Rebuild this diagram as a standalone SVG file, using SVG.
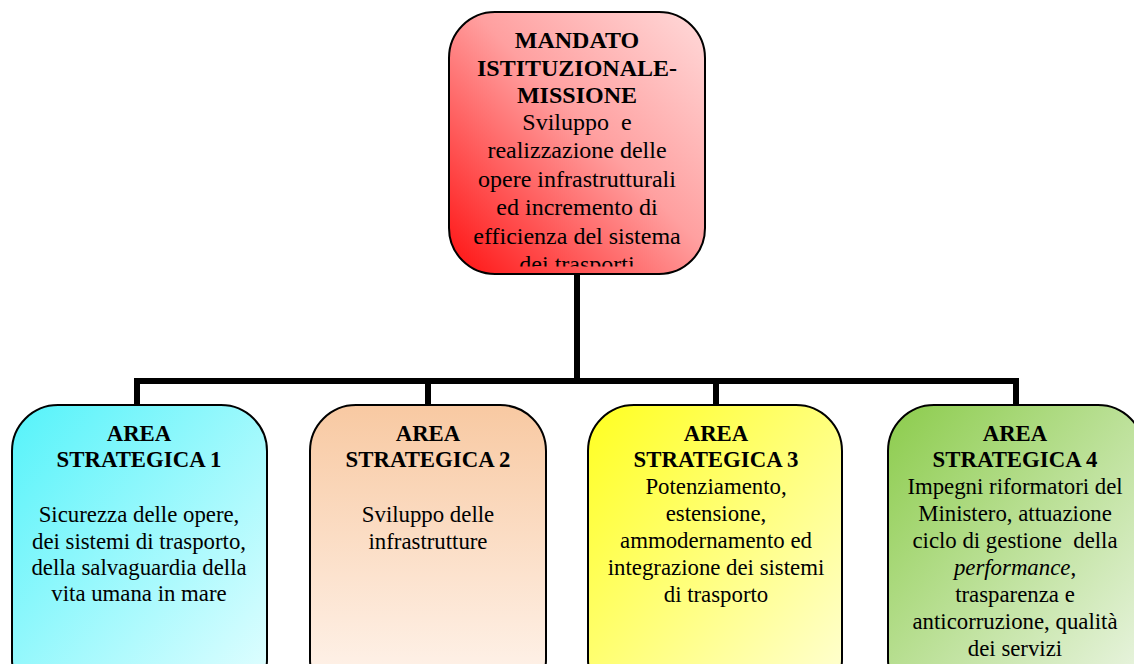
<svg xmlns="http://www.w3.org/2000/svg" width="1134" height="664" viewBox="0 0 1134 664">
<style>
.box{stroke:#000;stroke-width:2}
.t{font-family:"Liberation Serif","Times New Roman","DejaVu Serif",serif;font-size:22.8px;fill:#000;text-anchor:middle}
.tt{font-size:24px}
.b{font-weight:bold}
.con{stroke:#000;stroke-width:6;fill:none;stroke-linecap:square}
</style>
<defs>
<linearGradient id="gRed" x1="0" y1="1" x2="1" y2="0">
<stop offset="0" stop-color="#ff1010"/><stop offset="0.55" stop-color="#ffa0a0"/><stop offset="1" stop-color="#ffdada"/>
</linearGradient>
<linearGradient id="gCyan" x1="0" y1="0" x2="1" y2="1">
<stop offset="0" stop-color="#55f3fa"/><stop offset="1" stop-color="#e6feff"/>
</linearGradient>
<linearGradient id="gPeach" x1="0" y1="0" x2="0" y2="1">
<stop offset="0" stop-color="#f8c9a2"/><stop offset="1" stop-color="#fff6f0"/>
</linearGradient>
<linearGradient id="gYellow" x1="0" y1="0" x2="1" y2="1">
<stop offset="0" stop-color="#ffff20"/><stop offset="1" stop-color="#ffffd8"/>
</linearGradient>
<linearGradient id="gGreen" x1="0" y1="0" x2="1" y2="1">
<stop offset="0" stop-color="#8ccc4c"/><stop offset="1" stop-color="#eef6e8"/>
</linearGradient>
<clipPath id="clipTop"><rect x="449" y="12" width="256" height="254.5"/></clipPath>
</defs>

<g id="connectors">
<path class="con" d="M577 274 V381"/>
<path class="con" d="M137 405 V381 H1016 V405"/>
<path class="con" d="M428 381 V405"/>
<path class="con" d="M716 381 V405"/>
</g>

<g id="node-mandato">
<rect class="box" x="449" y="12" width="256" height="262" rx="46" ry="46" fill="url(#gRed)"/>
<g clip-path="url(#clipTop)">
<text class="t tt b" x="577" y="48">MANDATO</text>
<text class="t tt b" x="577" y="76">ISTITUZIONALE-</text>
<text class="t tt b" x="577" y="103">MISSIONE</text>
<text class="t tt" x="577" y="130" xml:space="preserve">Sviluppo  e</text>
<text class="t tt" x="577" y="158">realizzazione delle</text>
<text class="t tt" x="577" y="186.5">opere infrastrutturali</text>
<text class="t tt" x="577" y="215">ed incremento di</text>
<text class="t tt" x="577" y="243.5">efficienza del sistema</text>
<text class="t tt" x="577" y="272">dei trasporti</text>
</g>
</g>

<g id="node-area1">
<rect class="box" x="12" y="405" width="255" height="300" rx="46" ry="46" fill="url(#gCyan)"/>
<text class="t b" x="139" y="441">AREA</text>
<text class="t b" x="139" y="467">STRATEGICA 1</text>
<text class="t" x="139" y="522">Sicurezza delle opere,</text>
<text class="t" x="139" y="549">dei sistemi di trasporto,</text>
<text class="t" x="139" y="575">della salvaguardia della</text>
<text class="t" x="139" y="601">vita umana in mare</text>
</g>

<g id="node-area2">
<rect class="box" x="310" y="405" width="236" height="300" rx="46" ry="46" fill="url(#gPeach)"/>
<text class="t b" x="428" y="441">AREA</text>
<text class="t b" x="428" y="467">STRATEGICA 2</text>
<text class="t" x="428" y="522">Sviluppo delle</text>
<text class="t" x="428" y="549">infrastrutture</text>
</g>

<g id="node-area3">
<rect class="box" x="588" y="405" width="254" height="300" rx="46" ry="46" fill="url(#gYellow)"/>
<text class="t b" x="716" y="441">AREA</text>
<text class="t b" x="716" y="467">STRATEGICA 3</text>
<text class="t" x="716" y="494">Potenziamento,</text>
<text class="t" x="716" y="521">estensione,</text>
<text class="t" x="716" y="548">ammodernamento ed</text>
<text class="t" x="716" y="575">integrazione dei sistemi</text>
<text class="t" x="716" y="602">di trasporto</text>
</g>

<g id="node-area4">
<rect class="box" x="888" y="405" width="256" height="300" rx="46" ry="46" fill="url(#gGreen)"/>
<text class="t b" x="1015" y="441">AREA</text>
<text class="t b" x="1015" y="467">STRATEGICA 4</text>
<text class="t" x="1015" y="494">Impegni riformatori del</text>
<text class="t" x="1015" y="521">Ministero, attuazione</text>
<text class="t" x="1015" y="548" xml:space="preserve">ciclo di gestione  della</text>
<text class="t" x="1015" y="575"><tspan font-style="italic">performance</tspan>,</text>
<text class="t" x="1015" y="602">trasparenza e</text>
<text class="t" x="1015" y="629">anticorruzione, qualità</text>
<text class="t" x="1015" y="656">dei servizi</text>
</g>
</svg>
